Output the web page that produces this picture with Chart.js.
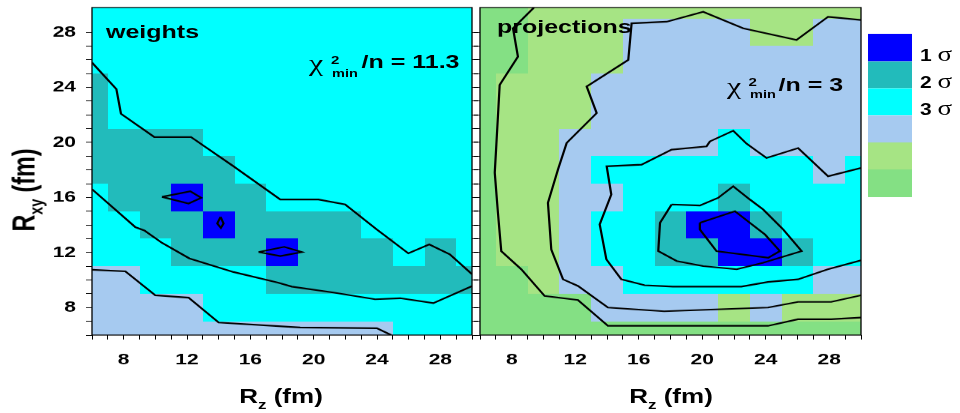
<!DOCTYPE html>
<html><head><meta charset="utf-8">
<script src="https://cdn.jsdelivr.net/npm/chart.js@4.4.1/dist/chart.umd.min.js"></script>
<style>
html,body{margin:0;padding:0;background:#fff;overflow:hidden;width:960px;height:413px;}
#stage{position:absolute;left:0;top:0;width:960px;height:551px;transform:scaleY(0.74955);transform-origin:0 0;}
canvas{position:absolute;top:0;}
.t{position:absolute;white-space:nowrap;font-family:"Liberation Sans",Arial,sans-serif;font-weight:bold;color:#000;line-height:1;}
.s{font-family:"Liberation Serif","Times New Roman",serif;font-weight:normal;}
.box{position:absolute;left:868px;width:44px;}
</style></head>
<body>
<div id="stage">
<canvas id="cw" width="480" height="551" style="left:0px"></canvas>
<canvas id="cp" width="490" height="551" style="left:470px"></canvas>
</div>
<script>
// ---------------- data ----------------
const rzCells  = [6, 8, 10, 12, 14, 16, 18, 20, 22, 24, 26, 28, 30];      // cell centres along R_z
const rxyCells = [30, 28, 26, 24, 22, 20, 18, 16, 14, 12, 10, 8, 6];      // cell centres along R_xy (top -> bottom)
const axisTickLabels = [8, 12, 16, 20, 24, 28];
const levelNames  = ['1 σ', '2 σ', '3 σ', '', '', ''];
const levelColors = ['#0000FF', '#22BBBB', '#00FFFF', '#A6CAF0', '#A6E484', '#84E084'];

// significance level of each cell (1 = 1σ ... 6)
const weightsLevels = [
  [3,3,3,3,3,3,3,3,3,3,3,3,3],
  [3,3,3,3,3,3,3,3,3,3,3,3,3],
  [3,3,3,3,3,3,3,3,3,3,3,3,3],
  [2,3,3,3,3,3,3,3,3,3,3,3,3],
  [2,3,3,3,3,3,3,3,3,3,3,3,3],
  [2,2,2,2,3,3,3,3,3,3,3,3,3],
  [2,2,2,2,2,3,3,3,3,3,3,3,3],
  [3,2,2,1,2,2,3,3,3,3,3,3,3],
  [3,3,2,2,1,2,2,2,2,3,3,3,3],
  [3,3,3,2,2,2,1,2,2,2,3,2,3],
  [4,4,3,3,3,3,2,2,2,2,2,2,2],
  [4,4,4,4,3,3,3,3,3,3,3,3,3],
  [4,4,4,4,4,4,4,4,4,4,3,3,3]
];
const projectionsLevels = [
  [6,6,5,5,5,5,5,5,5,5,5,5,5],
  [6,6,5,5,5,4,4,4,4,5,5,4,4],
  [6,6,5,5,5,4,4,4,4,4,4,4,4],
  [6,5,5,5,4,4,4,4,4,4,4,4,4],
  [6,5,5,5,4,4,4,4,4,4,4,4,4],
  [6,5,5,4,4,4,4,4,3,4,4,4,4],
  [6,5,5,4,3,3,3,3,3,3,3,4,3],
  [6,5,5,4,4,3,3,3,2,3,3,3,3],
  [6,5,5,4,3,3,2,1,1,2,3,3,3],
  [6,5,5,4,3,3,2,2,1,1,2,3,3],
  [6,6,5,4,4,3,3,3,3,3,3,4,4],
  [6,6,6,6,4,4,4,4,5,4,5,5,5],
  [6,6,6,6,6,6,6,6,6,6,6,6,6]
];

// contour lines [R_z, R_xy]
const weights3SigmaUpper = [[6.0,25.8],[7.54,23.87],[7.83,22.08],[9.94,20.39],[12.25,20.39],[14.94,18.26],[17.89,15.85],[20.3,15.85],[21.99,15.49],[23.98,13.68],[25.98,11.94],[27.3,12.59],[28.6,11.87],[30.0,10.42]];
const weights3SigmaLower = [[6.0,16.6],[8.74,13.84],[9.31,13.6],[10.42,12.7],[12.15,11.57],[14.94,10.58],[17.74,9.81],[18.62,9.52],[21.25,9.09],[23.88,8.6],[25.46,8.68],[27.56,8.32],[30.0,9.56]];
const weights4Sigma = [[6.0,10.75],[8.11,10.63],[10.0,8.89],[12.1,8.72],[14.0,6.91],[19.15,6.55],[23.99,6.5],[24.9,6.0]];
const weights1SigmaA = [[10.42,16.04],[12.21,16.45],[12.9,15.97],[12.1,15.56],[10.42,16.04]];
const weights1SigmaB = [[14.12,14.59],[14.31,14.11],[14.14,13.79],[13.91,14.11],[14.12,14.59]];
const weights1SigmaC = [[16.52,12.03],[18.14,12.41],[19.26,12.03],[17.89,11.74],[16.52,12.03]];

const proj6Sigma = [[9.4,29.8],[8.08,28.29],[8.39,26.23],[7.24,24.18],[7.03,19.83],[6.93,17.8],[7.13,14.88],[7.34,12.1],[8.6,10.78],[10.07,8.84],[12.17,8.55],[14.06,6.67],[18.15,6.67],[24.14,6.67],[26.03,7.15],[28.12,7.15],[30.0,7.27]];
const proj5Sigma = [[30.0,28.89],[27.93,29.13],[25.94,27.44],[22.58,28.29],[20.06,29.49],[17.76,28.77],[15.55,28.65],[15.34,25.99],[12.72,24.06],[13.35,22.13],[11.46,19.96],[10.91,18.02],[10.28,15.61],[10.49,12.22],[11.23,10.05],[12.17,9.57],[14.06,8.0],[17.6,7.73],[24.14,8.0],[26.03,8.41],[28.12,8.41],[30.0,8.89]];
const proj4Sigma = [[30.0,18.14],[27.93,17.54],[26.04,19.59],[24.05,18.87],[22.79,19.91],[21.95,20.85],[20.48,20.07],[20.27,19.71],[18.07,19.47],[16.18,18.38],[13.98,18.26],[14.27,16.21],[13.54,14.04],[13.96,11.5],[14.9,10.05],[16.37,9.62],[18.15,9.52],[22.46,9.52],[24.14,9.86],[26.03,10.05],[27.91,10.78],[30.0,11.43]];
const proj2Sigma = [[18.07,15.49],[19.85,15.41],[21.0,15.97],[21.95,16.81],[23.0,15.85],[23.84,15.12],[25.1,13.67],[26.26,12.1],[24.89,11.62],[23.84,11.26],[22.17,10.78],[20.06,11.01],[18.39,11.38],[17.23,12.1],[17.34,14.16],[18.07,15.49]];
const proj1Sigma = [[19.85,14.16],[22.06,15.0],[23.0,14.16],[23.95,13.31],[24.89,12.1],[24.16,11.62],[20.9,12.1],[19.85,13.67],[19.85,14.16]];

const RZ_MIN = 6, RZ_MAX = 30, RXY_MIN = 6, RXY_MAX = 29.8;

// ---------------- chart helpers ----------------
const tickFont = {family:'"Liberation Sans", Arial, sans-serif', weight:'bold', size:21};
const labelCb = v => axisTickLabels.includes(v) ? String(v) : '';
const noLabel = () => '';
const keepInt = s => { s.ticks = s.ticks.filter(t => Number.isInteger(t.value)); };
const noPad = s => { s.paddingTop = 0; s.paddingBottom = 0; s.paddingLeft = 0; s.paddingRight = 0; };
const gridCfg = {drawOnChartArea:false, drawTicks:true, tickLength:6, color:'#000', lineWidth:1};

function xAxis(labels){
  return {type:'linear', position:'bottom', min:RZ_MIN, max:RZ_MAX,
    afterBuildTicks:keepInt, afterFit:s=>{s.height=104; noPad(s);},
    ticks:{stepSize:1, autoSkip:false, maxRotation:0, minRotation:0, padding:15, color:'#000', font:tickFont, callback:labels?labelCb:noLabel},
    grid:gridCfg, border:{display:false}};
}
function yAxis(pos, width, labels){
  return {type:'linear', position:pos, min:RXY_MIN, max:RXY_MAX,
    afterBuildTicks:keepInt, afterFit:s=>{s.width=width; noPad(s);},
    ticks:{stepSize:1, autoSkip:false, padding:10, color:'#000', font:tickFont, callback:labels?labelCb:noLabel},
    grid:gridCfg, border:{display:false}};
}
function heatPlugin(levels){
  return {id:'heat',
    beforeDatasetsDraw(chart){
      const {ctx, chartArea:a, scales} = chart; const xs = scales.x, ys = scales.y;
      ctx.save(); ctx.beginPath(); ctx.rect(a.left, a.top, a.right-a.left, a.bottom-a.top); ctx.clip();
      levels.forEach((row, j) => row.forEach((lev, i) => {
        const cx = rzCells[i], cy = rxyCells[j];
        const x0 = Math.round(xs.getPixelForValue(cx-1)), x1 = Math.round(xs.getPixelForValue(cx+1));
        const y0 = Math.round(ys.getPixelForValue(cy+1)), y1 = Math.round(ys.getPixelForValue(cy-1));
        ctx.fillStyle = levelColors[lev-1];
        ctx.fillRect(x0, y0, x1-x0, y1-y0);
      }));
      ctx.restore();
    },
    afterDatasetsDraw(chart){
      const {ctx, chartArea:a} = chart;
      ctx.save(); ctx.strokeStyle='#000'; ctx.lineWidth=1.3;
      ctx.strokeRect(a.left, a.top, a.right-a.left, a.bottom-a.top); ctx.restore();
    }};
}
function lineSet(arr){
  return {data:arr.map(([x,y])=>({x,y})), showLine:true, pointRadius:0, borderColor:'#000', borderWidth:2.2, tension:0, fill:false, xAxisID:'x', yAxisID:'y'};
}

new Chart(document.getElementById('cw'), {
  type:'scatter',
  data:{datasets:[weights3SigmaUpper, weights3SigmaLower, weights4Sigma, weights1SigmaA, weights1SigmaB, weights1SigmaC].map(lineSet)},
  options:{responsive:false, animation:false, devicePixelRatio:1,
    layout:{padding:{top:10, right:0, left:0, bottom:0}},
    plugins:{legend:{display:false}, tooltip:{enabled:false}},
    scales:{x:xAxis(true), y:yAxis('left', 92, true), y2:yAxis('right', 8, false)}},
  plugins:[heatPlugin(weightsLevels)]
});
new Chart(document.getElementById('cp'), {
  type:'scatter',
  data:{datasets:[proj6Sigma, proj5Sigma, proj4Sigma, proj2Sigma, proj1Sigma].map(lineSet)},
  options:{responsive:false, animation:false, devicePixelRatio:1,
    layout:{padding:{top:10, right:99, left:0, bottom:0}},
    plugins:{legend:{display:false}, tooltip:{enabled:false}},
    scales:{x:xAxis(true), y:yAxis('left', 10, false)}},
  plugins:[heatPlugin(projectionsLevels)]
});

// ---------------- text & legend (HTML) ----------------
const stage = document.getElementById('stage');
function txt(html, left, baseline, size, cls, center){
  const d = document.createElement('div');
  d.className = 't' + (cls ? ' ' + cls : '');
  d.style.fontSize = size + 'px';
  d.innerHTML = html;
  d.style.top = (baseline - 0.8465*size) + 'px';
  if (center){ d.style.left = (left-150)+'px'; d.style.width='300px'; d.style.textAlign='center'; }
  else d.style.left = left + 'px';
  stage.appendChild(d); return d;
}
txt('weights', 106, 51, 25);
txt('χ', 309, 95, 32, 's');
txt('2', 331, 84.4, 15);
txt('min', 332, 103, 14.5);
txt('/n = 11.3', 361.5, 91, 25);

txt('projections', 497, 44.4, 25);
txt('χ', 727, 125, 32, 's');
txt('2', 748.5, 114.7, 15);
txt('min', 750, 131, 14.5);
txt('/n = 3', 778.5, 121.3, 25);

const xt = 'R<span style="font-size:17px;position:relative;top:9px">z</span> (fm)';
txt(xt, 281, 537, 26, '', true);
txt(xt, 671, 537, 26, '', true);

const yt = document.createElement('div');
yt.className = 't';
yt.style.cssText = 'font-size:31px;width:200px;height:31px;text-align:center;left:' + (23.5-100) + 'px;top:' + (253.3-15.5) + 'px;transform:rotate(-90deg);';
yt.innerHTML = 'R<span style="font-size:19px;position:relative;top:8px">xy</span> (fm)';
stage.appendChild(yt);

levelColors.forEach((c, i) => {
  const b = document.createElement('div');
  b.className = 'box';
  b.style.top = (45.3 + 36.2*i) + 'px';
  b.style.height = '36.8px';
  b.style.background = c;
  stage.appendChild(b);
});
const legendBase = [76.4, 113.3, 149];
levelNames.forEach((n, i) => {
  if (!n) return;
  const [num, sig] = n.split(' ');
  txt(num + ' <span class="s" style="font-size:27px">' + sig + '</span>', 920, legendBase[i], 21);
});
</script>
</body></html>
